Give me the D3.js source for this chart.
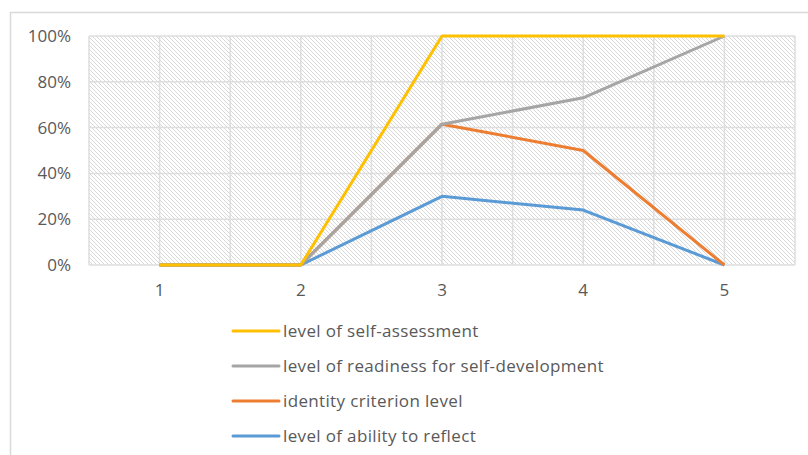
<!DOCTYPE html>
<html>
<head>
<meta charset="utf-8">
<script src="https://cdn.jsdelivr.net/npm/d3@7"></script>
<style>
  body { margin: 0; background: #fff; }
  svg { display: block; font-family: "Open Sans", Lato, sans-serif; }
</style>
</head>
<body>
<div id="chart"></div>
<script>
const categories = ["1", "2", "3", "4", "5"];
const yTicks = [0, 0.2, 0.4, 0.6, 0.8, 1];
const seriesNames = [
  "level of self-assessment",
  "level of readiness for self-development",
  "identity criterion level",
  "level of ability to reflect"
];
const selfAssessment = [0, 0, 1, 1, 1];
const readiness = [0, 0, 0.615, 0.73, 1];
const identity = [0, 0, 0.615, 0.5, 0];
const reflect = [0, 0, 0.3, 0.24, 0];
const colors = ["#FFC000", "#A5A5A5", "#ED7D31", "#5B9BD5"];

const W = 808, H = 455;
const plot = { left: 89, top: 36, right: 795, bottom: 265 };

const svg = d3.select("#chart").append("svg")
  .attr("width", W).attr("height", H);

// chart border (runs off the right and bottom of the picture)
svg.append("rect")
  .attr("x", 10.5).attr("y", 12.5)
  .attr("width", 820).attr("height", 460)
  .attr("fill", "#fff").attr("stroke", "#d9d9d9").attr("stroke-width", 1.5);

const defs = svg.append("defs");
const pat = defs.append("pattern")
  .attr("id", "hatch")
  .attr("patternUnits", "userSpaceOnUse")
  .attr("width", 4).attr("height", 4);
pat.append("rect").attr("width", 4).attr("height", 4).attr("fill", "#fff");
pat.append("path")
  .attr("d", "M-1,-1 L5,5 M-1,3 L1,5 M3,-1 L5,1")
  .attr("stroke", "#d8d8d8").attr("stroke-width", 1);

const x = d3.scaleBand().domain(categories).range([plot.left, plot.right]);
const xc = d => x(d) + x.bandwidth() / 2;
const y = d3.scaleLinear().domain([0, 1]).range([plot.bottom, plot.top]);

svg.append("rect")
  .attr("x", plot.left).attr("y", plot.top)
  .attr("width", plot.right - plot.left).attr("height", plot.bottom - plot.top)
  .attr("fill", "url(#hatch)");

// vertical gridlines at band edges and centres
const vLines = [];
categories.forEach(c => { vLines.push(x(c)); vLines.push(xc(c)); });
vLines.push(plot.right);
svg.append("g").selectAll("line").data(vLines).join("line")
  .attr("x1", d => d).attr("x2", d => d)
  .attr("y1", plot.top).attr("y2", plot.bottom)
  .attr("stroke", "#dedede").attr("stroke-width", 1.5);

svg.append("g").selectAll("line").data(yTicks).join("line")
  .attr("x1", plot.left).attr("x2", plot.right)
  .attr("y1", d => y(d)).attr("y2", d => y(d))
  .attr("stroke", "#dedede").attr("stroke-width", 1.5);

// y labels
svg.append("g").selectAll("text").data(yTicks).join("text")
  .attr("x", 71).attr("y", d => y(d))
  .attr("dy", "0.35em")
  .attr("text-anchor", "end")
  .attr("fill", "#595959").style("font-size", "17px")
  .text(d => d3.format(".0%")(d));

// x labels
svg.append("g").selectAll("text").data(categories).join("text")
  .attr("x", d => xc(d)).attr("y", 290)
  .attr("dy", "0.35em")
  .attr("text-anchor", "middle")
  .attr("fill", "#595959").style("font-size", "17px")
  .text(d => d);

const allSeries = [selfAssessment, readiness, identity, reflect];
const line = d3.line().x((d, i) => xc(categories[i])).y(d => y(d));

// draw last series first so the legend's first series is on top
for (let s = allSeries.length - 1; s >= 0; s--) {
  svg.append("path")
    .datum(allSeries[s])
    .attr("d", line)
    .attr("fill", "none")
    .attr("stroke", colors[s])
    .attr("stroke-width", 3)
    .attr("stroke-linejoin", "round");
}

// legend
const legend = svg.append("g").selectAll("g").data(seriesNames).join("g")
  .attr("transform", (d, i) => `translate(233, ${331 + i * 35})`);
legend.append("line")
  .attr("x1", 0).attr("x2", 46).attr("y1", 0).attr("y2", 0)
  .attr("stroke", (d, i) => colors[i]).attr("stroke-width", 3)
  .attr("stroke-linecap", "round");
legend.append("text")
  .attr("x", 50).attr("dy", "0.35em")
  .attr("fill", "#595959").style("font-size", "17px")
  .style("letter-spacing", "0.35px")
  .text(d => d);
</script>
</body>
</html>
